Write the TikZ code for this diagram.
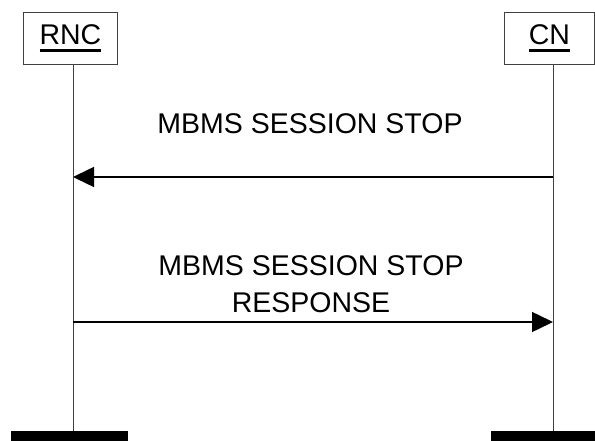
\documentclass[tikz,border=0pt]{standalone}
\usepackage{fontspec}
\setmainfont{Liberation Sans}
\usetikzlibrary{arrows.meta}
\newcommand{\ulname}[1]{\setbox0\hbox{#1}\rlap{\rule[-6.7pt]{\wd0}{3pt}}\box0}

\begin{document}
\begin{tikzpicture}[x=1pt, y=-1pt, >={Triangle[length=21pt,width=20pt]},
    entity/.style={draw=black!75, line width=0.8pt, minimum height=52pt, inner sep=0pt,
        font=\fontsize{28.5}{34}\selectfont},
    msg/.style={align=center, font=\fontsize{28.5}{36.6}\selectfont},
    life/.style={draw=black!75, line width=1pt},
    sig/.style={draw=black, line width=1.5pt}]
    \useasboundingbox (0,0) rectangle (595,441);
    % Entities
    \node[entity, minimum width=94pt, anchor=north west] (rnc) at (23,12) {\ulname{RNC}};
    \node[entity, minimum width=90pt, anchor=north west] (cn) at (504,12) {\ulname{CN}};
    % Lifelines
    \coordinate (rncbot) at (73,431);
    \coordinate (cnbot) at (553,431);
    \draw[life] (rnc.south -| rncbot) -- (rncbot);
    \draw[life] (cn.south -| cnbot) -- (cnbot);
    \fill (11,431) rectangle (128,441);
    \fill (491,431) rectangle (595,441);
    % Messages
    \coordinate (cn1) at (553,177);
    \coordinate (rnc1) at (73,177);
    \node[msg] (stop) at (310,124) {MBMS SESSION STOP};
    \draw[sig, ->] (cn1) -- (rnc1);
    \coordinate (rnc2) at (73,322);
    \coordinate (cn2) at (553,322);
    \node[msg] (stopresp) at (311,284) {MBMS SESSION STOP\\RESPONSE};
    \draw[sig, ->] (rnc2) -- (cn2);
\end{tikzpicture}
\end{document}
